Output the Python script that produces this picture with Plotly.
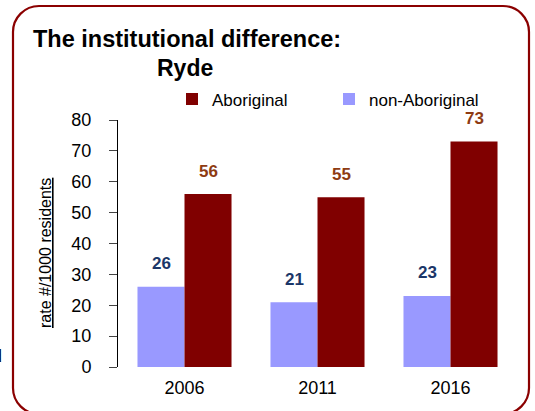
import plotly.graph_objects as go

years = ["2006", "2011", "2016"]
aboriginal = [56, 55, 73]
non_aboriginal = [26, 21, 23]
y_ticks = [0, 10, 20, 30, 40, 50, 60, 70, 80]

W, H = 535, 411
L, R, T, B = 118, 18, 120, 44
PW, PH = W - L - R, H - T - B

def px(x):
    return (x - L) / PW

def py(y):
    return (H - B - y) / PH

FONT = "Arial, Liberation Sans, sans-serif"
AB_COL = "#800000"
NON_COL = "#9999FF"

fig = go.Figure()
fig.add_trace(go.Bar(name="non-Aboriginal", x=years, y=non_aboriginal,
                     marker=dict(color=NON_COL, line=dict(width=0)), legend="legend2"))
fig.add_trace(go.Bar(name="Aboriginal", x=years, y=aboriginal,
                     marker=dict(color=AB_COL, line=dict(width=0)), legend="legend"))

ann = []
for i in range(len(years)):
    ann.append(dict(x=i, y=non_aboriginal[i], text="<b>%d</b>" % non_aboriginal[i],
                    xref="x", yref="y", showarrow=False, xshift=-23.5, yshift=23,
                    font=dict(family=FONT, size=17, color="#1B3668")))
    ann.append(dict(x=i, y=aboriginal[i], text="<b>%d</b>" % aboriginal[i],
                    xref="x", yref="y", showarrow=False, xshift=23.5, yshift=23,
                    font=dict(family=FONT, size=17, color="#8E3B12")))

ann.append(dict(x=px(31), y=py(38.5), xref="paper", yref="paper", xanchor="left", yanchor="middle",
                text="<b>The institutional difference:</b>", showarrow=False,
                font=dict(family=FONT, size=23.5, color="black")))
ann.append(dict(x=px(184.5), y=py(68), xref="paper", yref="paper", xanchor="center", yanchor="middle",
                text="<b>Ryde</b>", showarrow=False,
                font=dict(family=FONT, size=23, color="black")))
ann.append(dict(x=px(45.5), y=py(253.5), xref="paper", yref="paper", xanchor="center", yanchor="middle",
                text="<u>rate #/1000 residents</u>", textangle=-90, showarrow=False,
                font=dict(family=FONT, size=16, color="black")))
ann.append(dict(x=px(4), y=py(356), xref="paper", yref="paper", xanchor="right", yanchor="middle",
                text="d", showarrow=False, font=dict(family=FONT, size=18, color="black")))

# rounded border
x0, x1, y0, y1, r = 13, 529, 6, 414, 26
k = 0.5523 * r
def P(x, y):
    return "%.5f,%.5f" % (px(x), py(y))
path = ("M" + P(x0 + r, y0) + " L" + P(x1 - r, y0) +
        " C" + P(x1 - r + k, y0) + " " + P(x1, y0 + r - k) + " " + P(x1, y0 + r) +
        " L" + P(x1, y1 - r) +
        " C" + P(x1, y1 - r + k) + " " + P(x1 - r + k, y1) + " " + P(x1 - r, y1) +
        " L" + P(x0 + r, y1) +
        " C" + P(x0 + r - k, y1) + " " + P(x0, y1 - r + k) + " " + P(x0, y1 - r) +
        " L" + P(x0, y0 + r) +
        " C" + P(x0, y0 + r - k) + " " + P(x0 + r - k, y0) + " " + P(x0 + r, y0) + " Z")

fig.update_layout(
    width=W, height=H,
    margin=dict(l=L, r=R, t=T, b=B, autoexpand=False),
    paper_bgcolor="white", plot_bgcolor="white",
    barmode="group", bargap=0.293, bargroupgap=0,
    font=dict(family=FONT, size=18, color="black"),
    showlegend=True,
    legend=dict(x=px(172), y=py(99.5), xanchor="left", yanchor="middle", itemwidth=30,
                bgcolor="rgba(0,0,0,0)", font=dict(family=FONT, size=17, color="black")),
    legend2=dict(x=px(329), y=py(99.5), xanchor="left", yanchor="middle", itemwidth=30,
                 bgcolor="rgba(0,0,0,0)", font=dict(family=FONT, size=17, color="black")),
    annotations=ann,
    shapes=[dict(type="path", path=path, xref="paper", yref="paper",
                 line=dict(color="#8B0000", width=2.2), fillcolor="rgba(0,0,0,0)")],
    xaxis=dict(type="category", range=[-0.5, 2.5], showline=False, ticks="", showgrid=False,
               zeroline=False, ticklabelstandoff=8,
               tickfont=dict(family=FONT, size=18, color="black")),
    yaxis=dict(range=[0, 80], tickvals=y_ticks, showline=True, linecolor="black", linewidth=1,
               ticks="outside", ticklen=8, tickcolor="#444", showgrid=False, zeroline=False,
               ticklabelstandoff=14,
               tickfont=dict(family=FONT, size=18, color="black")),
)

fig.write_html("out.html", config={"displayModeBar": False},
               post_script="document.body.style.margin='0';")
